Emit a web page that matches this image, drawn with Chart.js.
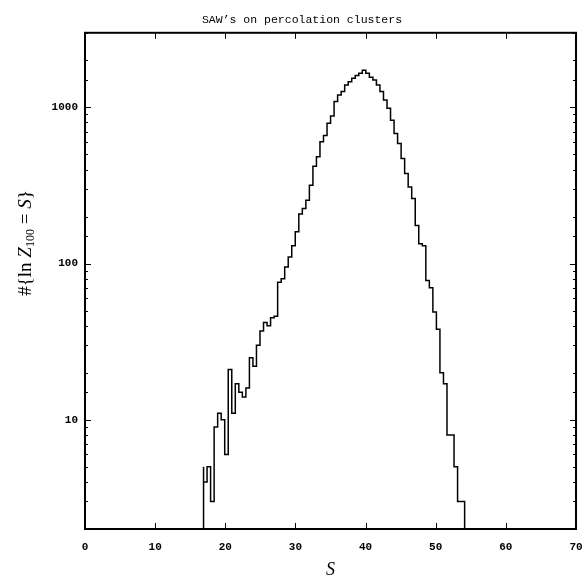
<!DOCTYPE html>
<html>
<head>
<title>SAW's on percolation clusters</title>
<style>
body {
	margin: 0;
	background: #fff;
}
</style>
<script src="https://cdn.jsdelivr.net/npm/chart.js@4.4.0/dist/chart.umd.min.js"></script>
</head>
<body>
	<canvas id="chart" width="584" height="581"></canvas>
	<script>
		// histogram of ln Z_100, equal bins
		const binStart = 16.9;
		const binWidth = 0.503;
		const counts = [
			5, 4, 5, 3, 9, 11, 10, 6, 21, 11,
			17, 15, 14, 16, 25, 22, 30, 37, 42, 40,
			45, 46, 76, 80, 95, 110, 130, 160, 208, 225,
			254, 317, 420, 482, 602, 660, 790, 880, 1088, 1200,
			1262, 1390, 1460, 1535, 1600, 1653,
			1730, 1653, 1560, 1497, 1390, 1262, 1114, 985, 828, 681,
			587, 470, 377, 309, 261, 175, 134, 130, 78, 70,
			49, 38, 20, 17, 8, 8, 5, 3, 3
		];
		const xMin = 0, xMax = 70, xStep = 10;
		const yMin = 2, yMax = 3000;
		const yLabels = [10, 100, 1000];
		const floorValue = 1; // below the axis, so the edges drop to the frame

		const steps = [{ x: binStart, y: floorValue }];
		counts.forEach((c, i) => steps.push({ x: binStart + i * binWidth, y: c }));
		steps.push({ x: binStart + counts.length * binWidth, y: floorValue });

		const tickFont = { family: 'Liberation Mono', weight: 'bold', size: 11 };

		const frame = {
			id: 'frame',
			afterDraw(chart) {
				const { ctx, chartArea: a, scales: { x, y } } = chart;
				ctx.save();
				ctx.strokeStyle = '#000';
				ctx.lineWidth = 1;
				ctx.beginPath();
				x.ticks.forEach(t => {
					const px = Math.round(x.getPixelForValue(t.value)) + 0.5;
					ctx.moveTo(px, a.bottom); ctx.lineTo(px, a.bottom - 6);
					ctx.moveTo(px, a.top); ctx.lineTo(px, a.top + 6);
				});
				y.ticks.forEach(t => {
					const py = Math.round(y.getPixelForValue(t.value)) + 0.5;
					const len = yLabels.includes(t.value) ? 6 : 3;
					ctx.moveTo(a.left, py); ctx.lineTo(a.left + len, py);
					ctx.moveTo(a.right, py); ctx.lineTo(a.right - len, py);
				});
				ctx.stroke();
				ctx.lineWidth = 2;
				ctx.strokeRect(a.left, a.top, a.right - a.left, a.bottom - a.top);

				// y axis title with a subscript
				const parts = [
					{ t: '#{ln ', f: '19px "Liberation Serif"', dy: 0 },
					{ t: 'Z', f: 'italic 19px "Liberation Serif"', dy: 0 },
					{ t: '100', f: '12px "Liberation Serif"', dy: 5 },
					{ t: ' = ', f: '19px "Liberation Serif"', dy: 0 },
					{ t: 'S', f: 'italic 19px "Liberation Serif"', dy: 0 },
					{ t: '}', f: '19px "Liberation Serif"', dy: 0 }
				];
				let w = 0;
				parts.forEach(p => { ctx.font = p.f; p.w = ctx.measureText(p.t).width; w += p.w; });
				ctx.translate(26, 243);
				ctx.rotate(-Math.PI / 2);
				ctx.fillStyle = '#000';
				ctx.textBaseline = 'middle';
				let cx = -w / 2;
				parts.forEach(p => { ctx.font = p.f; ctx.fillText(p.t, cx, p.dy); cx += p.w; });
				ctx.restore();
			}
		};

		new Chart(document.getElementById('chart'), {
			type: 'line',
			data: {
				datasets: [{
					data: steps,
					stepped: 'after',
					borderColor: '#000',
					borderWidth: 1.5,
					pointRadius: 0,
					fill: false
				}]
			},
			options: {
				responsive: false,
				animation: false,
				layout: { padding: { left: 28, right: 8, top: 0, bottom: 0 } },
				plugins: {
					legend: { display: false },
					tooltip: { enabled: false },
					title: {
						display: true,
						text: 'SAW’s on percolation clusters',
						color: '#000',
						font: { family: 'Liberation Mono', size: 11.5, weight: 'normal' },
						padding: { top: 13, bottom: 6 }
					}
				},
				scales: {
					x: {
						type: 'linear',
						min: xMin,
						max: xMax,
						grid: { display: false, drawTicks: false },
						border: { display: false },
						ticks: { stepSize: xStep, color: '#000', font: tickFont, padding: 12, maxRotation: 0 },
						title: {
							display: true,
							text: 'S',
							color: '#000',
							font: { family: 'Liberation Serif', style: 'italic', size: 18 },
							padding: { top: 2, bottom: 0 }
						},
						afterFit: s => { s.height = 52; s.paddingLeft = 0; s.paddingRight = 0; }
					},
					y: {
						type: 'logarithmic',
						min: yMin,
						max: yMax,
						grid: { display: false, drawTicks: false },
						border: { display: false },
						ticks: {
							autoSkip: false,
							color: '#000',
							font: tickFont,
							padding: 7,
							callback: v => yLabels.includes(v) ? String(v) : ''
						},
						afterFit: s => { s.width = 57; s.paddingTop = 0; s.paddingBottom = 0; }
					}
				}
			},
			plugins: [frame]
		});
	</script>
</body>
</html>
